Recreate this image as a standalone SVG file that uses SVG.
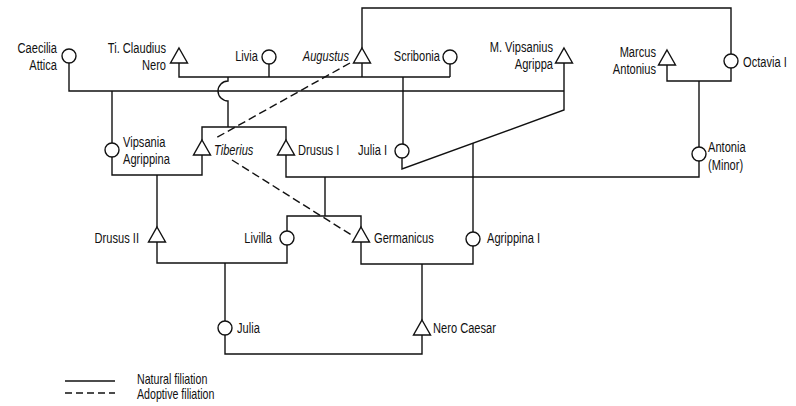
<svg xmlns="http://www.w3.org/2000/svg" width="796" height="406" viewBox="0 0 796 406">
<style>
.ln{fill:none;stroke:#111;stroke-width:1.4}
.ad{fill:none;stroke:#111;stroke-width:1.4;stroke-dasharray:8 4}
.nd{fill:#fff;stroke:#111;stroke-width:1.4}
text{font-family:"Liberation Sans","Arial",sans-serif;font-size:15px;fill:#111}
.e{text-anchor:end}
.it{font-style:italic}
.lg{font-size:14px}
</style>
<defs>
<path id="tri" d="M0,0 L8.5,15 L-8.5,15 Z"/>
</defs>
<rect width="796" height="406" fill="#fff"/>
<g id="connectors">
<polyline class="ln" points="362,48 362,8 731,8 731,54"/>
<polyline class="ln" points="179,63 179,77 450,77"/>
<line class="ln" x1="269" y1="64" x2="269" y2="77"/>
<line class="ln" x1="362" y1="63" x2="362" y2="77"/>
<line class="ln" x1="450" y1="64" x2="450" y2="77"/>
<polyline class="ln" points="69,63 69,91 564,91"/>
<polyline class="ln" points="564,63 564,110 402,169 402,158"/>
<polyline class="ln" points="667,65 667,81 731,81 731,68"/>
<path class="ln" d="M228,77 L228,81 A10,10 0 0 0 228,101 L228,127"/>
<polyline class="ln" points="202,140 202,127 286,127 286,140"/>
<line class="ln" x1="403" y1="77" x2="403" y2="144"/>
<line class="ln" x1="112" y1="91" x2="112" y2="143"/>
<line class="ln" x1="699" y1="81" x2="699" y2="147"/>
<polyline class="ln" points="112,157 112,175 202,175 202,155"/>
<polyline class="ln" points="286,155 286,177 699,177 699,161"/>
<line class="ln" x1="157" y1="175" x2="157" y2="227"/>
<line class="ln" x1="325" y1="177" x2="325" y2="216"/>
<line class="ln" x1="473" y1="143" x2="473" y2="232"/>
<polyline class="ln" points="287,231 287,216 361,216 361,227"/>
<polyline class="ln" points="157,242 157,263 287,263 287,245"/>
<polyline class="ln" points="361,242 361,264 473,264 473,246"/>
<line class="ln" x1="225" y1="263" x2="225" y2="321"/>
<line class="ln" x1="422" y1="264" x2="422" y2="320"/>
<polyline class="ln" points="225,335 225,354 422,354 422,335"/>
<line class="ad" x1="350" y1="63" x2="214" y2="139"/>
<line class="ad" x1="232" y1="160" x2="353" y2="236"/>
</g>
<g id="caecilia"><circle class="nd" cx="69" cy="56" r="7"/><text class="e" transform="translate(57 53) scale(0.74 1)">Caecilia</text><text class="e" transform="translate(57 70) scale(0.74 1)">Attica</text></g>
<g id="claudius"><use href="#tri" class="nd" x="179" y="48"/><text class="e" transform="translate(166 53) scale(0.74 1)">Ti. Claudius</text><text class="e" transform="translate(166 70) scale(0.74 1)">Nero</text></g>
<g id="livia"><circle class="nd" cx="269" cy="57" r="7"/><text class="e" transform="translate(258 61) scale(0.74 1)">Livia</text></g>
<g id="augustus"><use href="#tri" class="nd" x="362" y="48"/><text class="e it" transform="translate(349 61) scale(0.74 1)">Augustus</text></g>
<g id="scribonia"><circle class="nd" cx="450" cy="57" r="7"/><text class="e" transform="translate(440 61) scale(0.74 1)">Scribonia</text></g>
<g id="agrippa"><use href="#tri" class="nd" x="564" y="48"/><text class="e" transform="translate(553 52) scale(0.74 1)">M. Vipsanius</text><text class="e" transform="translate(553 69) scale(0.74 1)">Agrippa</text></g>
<g id="antonius"><use href="#tri" class="nd" x="667" y="50"/><text class="e" transform="translate(656 57) scale(0.74 1)">Marcus</text><text class="e" transform="translate(656 74) scale(0.74 1)">Antonius</text></g>
<g id="octavia"><circle class="nd" cx="731" cy="61" r="7"/><text transform="translate(743 67) scale(0.74 1)">Octavia I</text></g>
<g id="vipsania"><circle class="nd" cx="112" cy="150" r="7"/><text transform="translate(123 147) scale(0.74 1)">Vipsania</text><text transform="translate(123 164) scale(0.74 1)">Agrippina</text></g>
<g id="tiberius"><use href="#tri" class="nd" x="202" y="140"/><text class="it" transform="translate(214 155) scale(0.74 1)">Tiberius</text></g>
<g id="drusus1"><use href="#tri" class="nd" x="286" y="140"/><text transform="translate(298 155) scale(0.74 1)">Drusus I</text></g>
<g id="julia1"><circle class="nd" cx="402" cy="151" r="7"/><text class="e" transform="translate(387 155) scale(0.74 1)">Julia I</text></g>
<g id="antonia"><circle class="nd" cx="699" cy="154" r="7"/><text transform="translate(708 152) scale(0.74 1)">Antonia</text><text transform="translate(708 170) scale(0.74 1)">(Minor)</text></g>
<g id="drusus2"><use href="#tri" class="nd" x="157" y="227"/><text class="e" transform="translate(139 243) scale(0.74 1)">Drusus II</text></g>
<g id="livilla"><circle class="nd" cx="287" cy="238" r="7"/><text class="e" transform="translate(272 243) scale(0.74 1)">Livilla</text></g>
<g id="germanicus"><use href="#tri" class="nd" x="361" y="227"/><text transform="translate(374 243) scale(0.74 1)">Germanicus</text></g>
<g id="agrippina1"><circle class="nd" cx="473" cy="239" r="7"/><text transform="translate(487 243) scale(0.74 1)">Agrippina I</text></g>
<g id="julia"><circle class="nd" cx="225" cy="328" r="7"/><text transform="translate(237 333) scale(0.74 1)">Julia</text></g>
<g id="nero"><use href="#tri" class="nd" x="422" y="320"/><text transform="translate(433 333) scale(0.74 1)">Nero Caesar</text></g>
<g id="legend">
<line class="ln" x1="65" y1="381" x2="115" y2="381"/>
<line class="ln" x1="65" y1="393" x2="115" y2="393" stroke-dasharray="7 4"/>
<text class="lg" transform="translate(137 384) scale(0.76 1)">Natural filiation</text>
<text class="lg" transform="translate(137 399) scale(0.76 1)">Adoptive filiation</text>
</g>
</svg>
